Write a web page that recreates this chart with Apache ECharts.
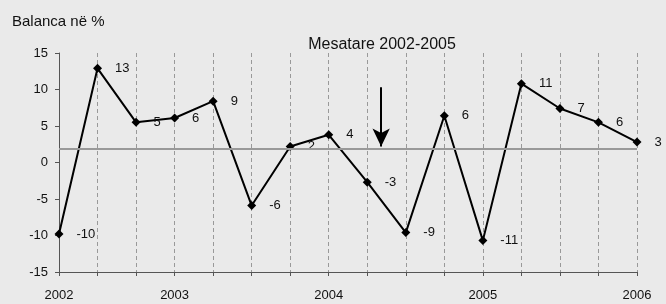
<!DOCTYPE html>
<html>
<head>
<meta charset="utf-8">
<script src="https://cdn.jsdelivr.net/npm/echarts@6/dist/echarts.min.js"></script>
<style>
  html, body { margin: 0; padding: 0; background: #eaeaea; }
  #chart { width: 666px; height: 304px; }
</style>
</head>
<body>
<div id="chart"></div>
<script>
// tremujoret 2002 - 2006
var quarterLabels = ['2002', '', '', '2003', '', '', '', '2004', '', '', '', '2005', '', '', '', '2006']
var balance = [-9.8, 12.9, 5.5, 6.1, 8.4, -5.9, 2.2, 3.8, -2.7, -9.6, 6.4, -10.7, 10.8, 7.4, 5.5, 2.8]
var balanceLabels = ['-10', '13', '5', '6', '9', '-6', '2', '4', '-3', '-9', '6', '-11', '11', '7', '6', '3']
var average = 1.9
var arrowX = 8.36
var arrowFrom = 10.3
var arrowTo = 2.2

var font = 'Liberation Sans, Arial, sans-serif'
var chart = echarts.init(document.getElementById('chart'))

var points = balance.map(function(v, i) { return [i, v] })

chart.setOption({
  backgroundColor: '#eaeaea',
  animation: false,
  title: [{
    text: 'Balanca në %',
    left: 7,
    top: 9,
    textStyle: { fontFamily: font, fontSize: 15, fontWeight: 'normal', color: '#111' }
  }, {
    text: 'Mesatare 2002-2005',
    left: 377,
    top: 32,
    textAlign: 'center',
    textStyle: { fontFamily: font, fontSize: 16, fontWeight: 'normal', color: '#111' }
  }],
  grid: { left: 59, right: 29, top: 53, bottom: 32 },
  xAxis: {
    type: 'value',
    min: 0,
    max: quarterLabels.length - 1,
    interval: 1,
    axisLine: { onZero: false, lineStyle: { color: '#555', width: 1 } },
    axisTick: { length: 4, lineStyle: { color: '#555' } },
    axisLabel: {
      fontFamily: font, fontSize: 13, color: '#111', margin: 17,
      formatter: function(v) { return quarterLabels[v] || '' }
    },
    splitLine: { show: true, lineStyle: { color: '#999', type: [4, 3], width: 1 } }
  },
  yAxis: {
    type: 'value',
    min: -15,
    max: 15,
    interval: 5,
    axisLine: { show: true, onZero: false, lineStyle: { color: '#555', width: 1 } },
    axisTick: { show: true, length: 4, lineStyle: { color: '#555' } },
    axisLabel: { fontFamily: font, fontSize: 13, color: '#111', margin: 11 },
    splitLine: { show: false }
  },
  series: [{
    type: 'line',
    data: points,
    symbol: 'diamond',
    symbolSize: 9,
    lineStyle: { color: '#000', width: 2 },
    itemStyle: { color: '#000' },
    label: {
      show: true,
      position: 'right',
      distance: 13,
      fontFamily: font,
      fontSize: 13,
      color: '#111',
      formatter: function(p) { return balanceLabels[p.dataIndex] }
    },
    markLine: {
      silent: true,
      animation: false,
      label: { show: false },
      data: [
        [{ coord: [0, average], symbol: 'none', lineStyle: { color: '#999', width: 2, type: 'solid' } },
         { coord: [quarterLabels.length - 1, average], symbol: 'none' }],
        [{ coord: [arrowX, arrowFrom], symbol: 'none', lineStyle: { color: '#000', width: 2, type: 'solid' } },
         { coord: [arrowX, arrowTo], symbol: 'arrow', symbolSize: [13, 18] }]
      ]
    },
    z: 3
  }]
})
</script>
</body>
</html>
